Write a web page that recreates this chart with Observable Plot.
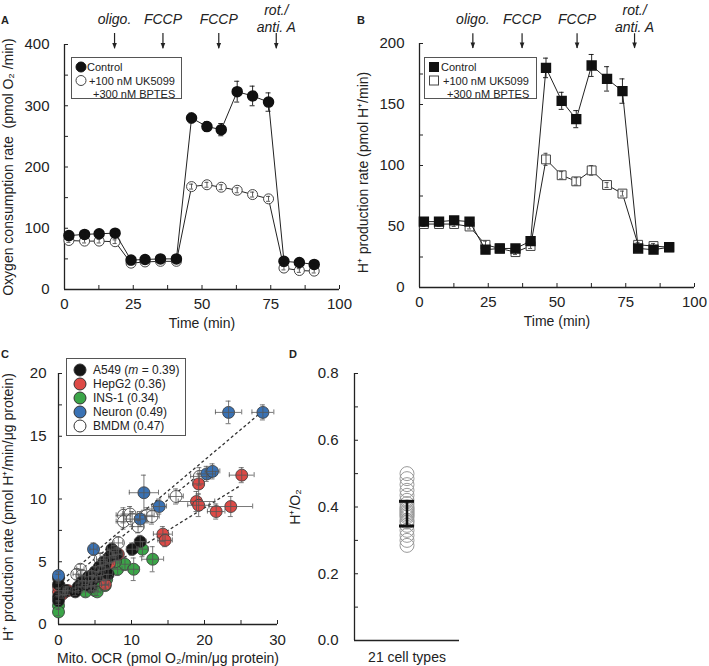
<!DOCTYPE html>
<html><head><meta charset="utf-8">
<script src="https://cdn.jsdelivr.net/npm/d3@7"></script>
<script src="https://cdn.jsdelivr.net/npm/@observablehq/plot@0.6"></script>
<style>
html,body{margin:0;padding:0;background:#fff;}
#fig{position:relative;width:709px;height:666px;overflow:hidden;font-family:"Liberation Sans",Arial,Helvetica,sans-serif;color:#222;}
.panel{position:absolute;}
.panel svg{display:block;overflow:visible;}
.tag{position:absolute;font-weight:bold;font-size:11px;line-height:11px;}
.leg{position:absolute;overflow:visible;}
</style></head>
<body><div id="fig"></div>
<script>
// ---------------- Panel A : oxygen consumption ----------------
const timeA = [1.6,7.3,12.6,18.4,24.2,29.3,34.9,40.7,46.2,51.8,57.0,62.8,68.4,74.2,79.8,85.4,90.8];
const ocrControl    = [88,90,91,92,48,49,50,50,280,266,261,323,316,306,46,44,41];
const ocrControlErr = [4,4,4,4,3,3,3,3,8,8,10,17,16,15,3,3,3];
const ocrTreated    = [80,79,79,78,43,45,46,46,168,171,167,162,155,148,35,31,30];
const ocrTreatedErr = [3,3,3,3,3,3,3,3,4,4,4,4,4,4,3,3,3];
const injTimesA = [18.2,35.8,56.1,77.0];

// ---------------- Panel B : H+ production ----------------
const timeB = [1.6,7.1,12.6,18.2,24.0,29.2,34.9,40.4,46.0,51.7,57.0,62.6,68.2,73.8,79.5,85.1,90.8];
const hprControl    = [54,54,55,54,31,32,32,38,180,153,138,182,171,161,32,31,33];
const hprControlErr = [3,3,3,3,2,2,2,2,8,7,7,9,10,10,2,2,2];
const hprTreated    = [52,52,52,50,35,32,29,34,105,92,87,96,84,77,35,34,33];
const hprTreatedErr = [2,2,2,2,3,2,2,2,5,3,3,4,2,2,2,2,2];
const injTimesB = [19.4,37.3,57.3,78.2];
const injLabels = ["oligo.","FCCP","FCCP","rot./\nanti. A"];

// ---------------- Panel C : [x, y, xErr, yErr] ----------------
const a549Pts = [[0,3.7,0,0.3],[0,3.2,0,0.3],[0,2.2,0,0.3],[0,1.9,0,0.3],[1.0,2.7,0.3,0.3],[2.3,2.6,0.4,0.3],[2.7,3.0,0.4,0.3],[3.2,3.4,0.5,0.4],[3.7,3.2,0.4,0.3],[4.1,3.8,0.5,0.4],[4.6,3.5,0.5,0.4],[5.0,4.2,0.5,0.4],[5.3,3.8,0.5,0.4],[5.9,4.3,0.5,0.4],[6.4,4.8,0.6,0.4],[6.8,4.0,0.6,0.4],[6.2,5.0,0.5,0.4],[7.0,5.4,0.6,0.5],[7.3,6.0,0.6,0.5],[8.0,5.6,0.6,0.5],[10.1,6.0,0.8,0.5],[11.2,6.6,0.8,0.5],[5.6,4.6,0.5,0.4],[4.4,3.0,0.5,0.3],[7.6,5.8,0.6,0.5]];
const hepg2Pts = [[0,2.6,0,0.3],[0,3.0,0,0.3],[0.5,2.4,0.3,0.3],[0.9,2.6,0.3,0.3],[1.3,2.7,0.4,0.3],[4.6,3.9,0.5,0.4],[6.4,3.2,0.5,0.3],[8.2,5.6,0.6,0.5],[7.0,4.9,0.5,0.4],[14.3,7.2,1.3,0.6],[14.6,6.7,1.0,0.5],[18.9,9.8,2.5,0.8],[19.2,9.5,1.5,0.9],[19.2,11.2,0.8,0.8],[21.6,9.0,1.2,0.6],[23.6,9.4,3.0,0.8],[25.1,11.9,1.7,0.6]];
const ins1Pts  = [[0,1.5,0,0.3],[0,1.0,0,0.3],[3.7,2.6,0.5,0.4],[5.0,2.7,0.5,0.4],[5.3,2.6,0.5,0.3],[5.7,3.5,0.5,0.4],[6.4,3.1,0.5,0.4],[6.6,3.6,0.6,0.4],[4.5,3.0,0.5,0.4],[8.1,4.4,0.6,0.5],[9.1,4.8,0.7,0.5],[10.3,4.4,0.8,0.9],[11.5,6.0,0.8,0.6],[12.9,5.2,1.5,1.0],[7.8,5.0,0.6,0.5]];
const neuronPts= [[0,3.9,0,0.3],[4.8,6.0,0.5,0.5],[11.2,8.4,0.8,0.6],[11.7,10.5,2.0,1.4],[13.8,9.4,1.0,0.6],[20.3,12.0,1.2,0.6],[21.1,12.2,1.0,0.6],[23.3,16.9,1.8,0.9],[28.0,16.9,1.5,0.6]];
const bmdmPts  = [[3.0,4.4,0.5,0.4],[2.5,4.0,0.5,0.4],[3.2,3.9,0.5,0.4],[5.7,5.2,0.5,0.5],[8.2,6.5,0.6,0.5],[8.9,8.7,1.0,0.6],[9.8,8.8,1.0,0.6],[8.9,8.2,1.0,0.6],[10.1,8.4,1.0,0.6],[10.9,7.8,0.8,0.5],[12.1,8.7,1.0,0.6],[12.8,8.6,1.0,0.6],[16.1,10.2,1.0,0.6],[19.3,11.8,1.2,0.7]];
const cellNames  = ["A549","HepG2","INS-1","Neuron","BMDM"];
const cellSlopes = [0.39,0.36,0.34,0.49,0.47];
const cellColors = ["#161616","#dd4a46","#3ba548","#3a72b4","#ffffff"];
// dashed fits visible in the figure
const fitNames = ["Neuron","BMDM","HepG2"];
const fitIntercepts = [3.3,2.9,2.1];
const fitSlopes = [0.49,0.47,0.36];
const fitEnds = [28,19.5,25];

// ---------------- Panel D : H+/O2 of 21 cell types ----------------
const ratioValues = [0.50,0.485,0.467,0.45,0.435,0.42,0.41,0.40,0.395,0.39,0.385,0.38,0.375,0.37,0.36,0.355,0.345,0.33,0.315,0.30,0.285];
const ratioMean = 0.38, ratioErr = 0.037;
const ratioGroup = "21 cell types";

// =================================================================
const FONT = '"Liberation Sans", Arial, Helvetica, sans-serif';
const INK = "#222";
const fig = document.getElementById("fig");
function place(node, left, top, w) {
  const d = document.createElement("div");
  d.className = "panel"; d.style.left = left + "px"; d.style.top = top + "px"; d.style.width = w + "px";
  d.appendChild(node); fig.appendChild(d);
}
function tag(t, left, top) {
  const d = document.createElement("div"); d.className = "tag"; d.textContent = t;
  d.style.left = left + "px"; d.style.top = top + "px"; fig.appendChild(d);
}
const downTri = {draw(ctx, size) { const s = Math.sqrt(size); const w = 0.5 * s, h = 1.25 * s; ctx.moveTo(-w, -h); ctx.lineTo(w, -h); ctx.lineTo(0, 0); ctx.closePath(); }};

function errBars(data, stroke, cap) {
  return [
    Plot.ruleX(data, {x: "t", y1: d => d.v - d.e, y2: d => d.v + d.e, stroke, strokeWidth: 0.9}),
    Plot.ruleY(data, {x1: "t", x2: "t", y: d => d.v + d.e, insetLeft: -cap, insetRight: -cap, stroke, strokeWidth: 0.9}),
    Plot.ruleY(data, {x1: "t", x2: "t", y: d => d.v - d.e, insetLeft: -cap, insetRight: -cap, stroke, strokeWidth: 0.9})
  ];
}

function timeCourse(o) {
  const ctrl = o.time.map((t, i) => ({t, v: o.ctrl[i], e: o.ctrlErr[i]}));
  const trt = o.time.map((t, i) => ({t, v: o.trt[i], e: o.trtErr[i]}));
  const inj = o.inj.map((t, i) => ({t, label: injLabels[i]}));
  return Plot.plot({
    width: o.width, height: o.height,
    marginLeft: o.m[0], marginRight: o.m[1], marginTop: o.m[2], marginBottom: o.m[3],
    style: {fontFamily: FONT, fontSize: "15px", color: INK, background: "transparent", overflow: "visible"},
    x: {domain: [0, 100]},
    y: {domain: [0, o.yMax]},
    marks: [
      Plot.ruleX([0], {stroke: INK, strokeWidth: 1.3}),
      Plot.ruleY([0], {stroke: INK, strokeWidth: 1.3}),
      Plot.ruleY(d3.range(0, o.yMax + 1, o.yMinor), {y: d => d, x1: 0, x2: 0, insetRight: -4, stroke: INK}),
      Plot.ruleX(d3.range(0, 101, 12.5), {x: d => d, y1: 0, y2: 0, insetTop: -4, stroke: INK}),
      Plot.axisX({ticks: [0, 25, 50, 75, 100], tickSize: 0, tickPadding: 9, label: null}),
      Plot.axisY({ticks: d3.range(0, o.yMax + 1, o.yMax / 4), tickSize: 0, tickPadding: 15, label: null}),
      // injections
      Plot.ruleX(inj, {x: "t", y1: o.arrow[0], y2: o.arrow[1], stroke: INK, strokeWidth: 1.2}),
      Plot.dot(inj, {x: "t", y: o.arrow[1], symbol: downTri, r: 2.6, fill: INK, stroke: "none"}),
      Plot.text(inj, {x: "t", text: "label", frameAnchor: "top", dy: o.labelDy, fontStyle: "italic", fontSize: 14, textAnchor: "middle", lineAnchor: "middle", lineHeight: 1.2}),
      // treated
      Plot.line(trt, {x: "t", y: "v", stroke: INK, strokeWidth: 1}),
      Plot.dot(trt, {x: "t", y: "v", symbol: o.symbol, r: 5, fill: "white", stroke: "#444", strokeWidth: 1}),
      ...errBars(trt, "#444", 2),
      // control
      Plot.line(ctrl, {x: "t", y: "v", stroke: INK, strokeWidth: 1}),
      Plot.dot(ctrl, {x: "t", y: "v", symbol: o.symbol, r: 5, fill: "#111", stroke: "#111"}),
      ...errBars(ctrl, "#111", 2.5),
      // titles
      Plot.text(["Time (min)"], {text: d => d, frameAnchor: "bottom", dy: 34, fontSize: 14, textAnchor: "middle", lineAnchor: "middle"}),
      Plot.text([o.yLabel], {text: d => d, frameAnchor: "left", rotate: -90, dx: -56, dy: o.yTitleDy, fontSize: 14, textAnchor: "middle", lineAnchor: "middle"})
    ]
  });
}

place(timeCourse({
  time: timeA, ctrl: ocrControl, ctrlErr: ocrControlErr, trt: ocrTreated, trtErr: ocrTreatedErr,
  inj: injTimesA, symbol: "circle", yMax: 400, yMinor: 50, width: 355, height: 330, m: [64, 16, 44, 41],
  arrow: [418, 393], labelDy: -26, yLabel: "Oxygen consumption rate  (pmol O\u2082 /min)", yTitleDy: 0
}), 0, 0, 355);

place(timeCourse({
  time: timeB, ctrl: hprControl, ctrlErr: hprControlErr, trt: hprTreated, trtErr: hprTreatedErr,
  inj: injTimesB, symbol: "square", yMax: 200, yMinor: 25, width: 354, height: 330, m: [64, 15, 43, 43],
  arrow: [208, 196], labelDy: -25, yLabel: "H\u207A production rate (pmol H\u207A/min)", yTitleDy: 7
}), 355, 0, 354);

// ---------------- Panel C ----------------
const ptsByCell = [a549Pts, hepg2Pts, ins1Pts, neuronPts, bmdmPts];
const cellData = cellNames.map((name, k) => ptsByCell[k].map(p => ({cell: name, x: p[0], y: p[1], ex: p[2], ey: p[3], fill: cellColors[k]})));
const drawOrder = ["BMDM", "INS-1", "HepG2", "A549", "Neuron"];
const allPts = cellData.flat();
const fits = fitNames.map((n, i) => ({n, b: fitIntercepts[i], m: fitSlopes[i], xe: fitEnds[i]}));
const EB = "#555";
const plotC = Plot.plot({
  width: 355, height: 336, marginLeft: 58, marginRight: 78, marginTop: 43, marginBottom: 42,
  style: {fontFamily: FONT, fontSize: "15px", color: INK, background: "transparent", overflow: "visible"},
  x: {domain: [0, 30]},
  y: {domain: [0, 20]},
  marks: [
    Plot.ruleX([0], {stroke: INK, strokeWidth: 1.3}),
    Plot.ruleY([0], {stroke: INK, strokeWidth: 1.3}),
    Plot.ruleY(d3.range(0, 20.1, 2.5), {y: d => d, x1: 0, x2: 0, insetRight: -4, stroke: INK}),
    Plot.ruleX(d3.range(0, 30.1, 5), {x: d => d, y1: 0, y2: 0, insetTop: -4, stroke: INK}),
    Plot.axisX({ticks: [0, 10, 20, 30], tickSize: 0, tickPadding: 10, label: null}),
    Plot.axisY({ticks: [0, 5, 10, 15, 20], tickSize: 0, tickPadding: 12, label: null}),
    Plot.link(fits, {x1: 0, y1: "b", x2: "xe", y2: d => d.b + d.m * d.xe, stroke: "#333", strokeWidth: 1.3, strokeDasharray: "3,2.5"}),
    ...drawOrder.map(n => Plot.dot(cellData[cellNames.indexOf(n)], {x: "x", y: "y", r: 6, fill: "fill", stroke: "#333", strokeWidth: 0.8})),
    Plot.ruleY(allPts, {y: "y", x1: d => d.x - d.ex, x2: d => d.x + d.ex, stroke: EB, strokeWidth: 0.8}),
    Plot.ruleX(allPts, {x: "x", y1: d => d.y - d.ey, y2: d => d.y + d.ey, stroke: EB, strokeWidth: 0.8}),
    Plot.ruleX(allPts.filter(d => d.ex > 0), {x: d => d.x - d.ex, y1: "y", y2: "y", insetTop: -2.5, insetBottom: -2.5, stroke: EB, strokeWidth: 0.8}),
    Plot.ruleX(allPts.filter(d => d.ex > 0), {x: d => d.x + d.ex, y1: "y", y2: "y", insetTop: -2.5, insetBottom: -2.5, stroke: EB, strokeWidth: 0.8}),
    Plot.ruleY(allPts, {y: d => d.y - d.ey, x1: "x", x2: "x", insetLeft: -2.5, insetRight: -2.5, stroke: EB, strokeWidth: 0.8}),
    Plot.ruleY(allPts, {y: d => d.y + d.ey, x1: "x", x2: "x", insetLeft: -2.5, insetRight: -2.5, stroke: EB, strokeWidth: 0.8}),
    Plot.text(["Mito. OCR (pmol O\u2082/min/\u03BCg protein)"], {text: d => d, frameAnchor: "bottom", dy: 34, fontSize: 14, textAnchor: "middle", lineAnchor: "middle"}),
    Plot.text(["H\u207A production rate (pmol H\u207A/min/\u03BCg protein)"], {text: d => d, frameAnchor: "left", rotate: -90, dx: -50, dy: 8, fontSize: 14, textAnchor: "middle", lineAnchor: "middle"})
  ]
});
place(plotC, 0, 330, 355);

// ---------------- Panel D ----------------
const ratioPts = ratioValues.map(v => ({g: ratioGroup, v}));
const plotD = Plot.plot({
  width: 200, height: 336, marginLeft: 84, marginRight: 11, marginTop: 43, marginBottom: 26,
  style: {fontFamily: FONT, fontSize: "15px", color: INK, background: "transparent", overflow: "visible"},
  x: {domain: [0, 1], axis: null},
  y: {domain: [0, 0.8]},
  marks: [
    Plot.ruleX([0], {stroke: INK, strokeWidth: 1.3}),
    Plot.ruleY([0], {stroke: INK, strokeWidth: 1.3}),
    Plot.ruleY(d3.range(0, 0.81, 0.1), {y: d => d, x1: 0, x2: 0, insetRight: -4, stroke: INK}),
    Plot.axisY({ticks: [0, 0.2, 0.4, 0.6, 0.8], tickFormat: ".1f", tickSize: 0, tickPadding: 16, label: null}),
    Plot.dot(ratioPts, {x: () => 0.5, y: "v", r: 7, fill: "none", stroke: "#9a9a9a", strokeWidth: 1}),
    Plot.ruleX([ratioMean], {x: () => 0.5, y1: d => d - ratioErr, y2: d => d + ratioErr, stroke: "#111", strokeWidth: 2.5}),
    Plot.ruleY([ratioMean - ratioErr, ratioMean + ratioErr], {y: d => d, x1: () => 0.5, x2: () => 0.5, insetLeft: -7.5, insetRight: -7.5, stroke: "#111", strokeWidth: 3}),
    Plot.text([ratioGroup], {x: () => 0.5, text: d => d, frameAnchor: "bottom", dy: 17, fontSize: 14, textAnchor: "middle", lineAnchor: "middle"}),
    Plot.text(["H\u207A/O\u2082"], {text: d => d, frameAnchor: "left", rotate: -90, dx: -59, fontSize: 14, textAnchor: "middle", lineAnchor: "middle"})
  ]
});
place(plotD, 270, 330, 200);

// ---------------- Legends (SVG text) ----------------
function svgEl(name, attrs, parent) {
  const e = document.createElementNS("http://www.w3.org/2000/svg", name);
  for (const k in attrs) e.setAttribute(k, attrs[k]);
  if (parent) parent.appendChild(e);
  return e;
}
function legendBox(left, top, w, h, fontSize) {
  const s = svgEl("svg", {width: w, height: h, class: "leg"});
  s.style.left = left + "px"; s.style.top = top + "px"; s.style.position = "absolute";
  s.style.fontFamily = FONT; s.style.fontSize = fontSize + "px";
  svgEl("rect", {x: 0.5, y: 0.5, width: w - 1, height: h - 1, fill: "#fff", stroke: "#555", "stroke-width": 1}, s);
  fig.appendChild(s);
  return s;
}
function legText(s, x, y, str) {
  const t = svgEl("text", {x, y, "dominant-baseline": "central", fill: INK}, s);
  t.textContent = str; return t;
}
function legSym(s, shape, x, y, fill, stroke, r) {
  if (shape === "circle") svgEl("circle", {cx: x, cy: y, r, fill, stroke, "stroke-width": 1}, s);
  else svgEl("rect", {x: x - r * 0.9, y: y - r * 0.9, width: r * 1.8, height: r * 1.8, fill, stroke, "stroke-width": 1}, s);
}
const seriesNames = ["Control", "+100 nM UK5099", "+300 nM BPTES"];
// A
let L = legendBox(71, 57, 111, 42, 11);
legSym(L, "circle", 10, 10, "#111", "#111", 5); legText(L, 16, 10, seriesNames[0]);
legSym(L, "circle", 10, 23.5, "#fff", "#444", 5); legText(L, 18, 23.5, seriesNames[1]);
legText(L, 22, 37, seriesNames[2]);
// B
L = legendBox(424, 57, 113, 42, 11);
legSym(L, "square", 10, 10, "#111", "#111", 5); legText(L, 17, 10, seriesNames[0]);
legSym(L, "square", 10, 23.5, "#fff", "#444", 5); legText(L, 19, 23.5, seriesNames[1]);
legText(L, 23, 37, seriesNames[2]);
// C
L = legendBox(66, 358, 120, 78, 12);
cellNames.forEach((n, i) => {
  const y = 12 + i * 14;
  legSym(L, "circle", 14, y, cellColors[i], "#333", 6);
  const t = legText(L, 27, y, "");
  if (i === 0) {
    t.appendChild(document.createTextNode(n + " ("));
    const ts = svgEl("tspan", {"font-style": "italic"}, t); ts.textContent = "m";
    t.appendChild(document.createTextNode(" = " + cellSlopes[i].toFixed(2) + ")"));
  } else t.textContent = n + " (" + cellSlopes[i].toFixed(2) + ")";
});

tag("A", 1, 15); tag("B", 357, 15); tag("C", 1, 349); tag("D", 289, 349);
</script>
</body></html>
